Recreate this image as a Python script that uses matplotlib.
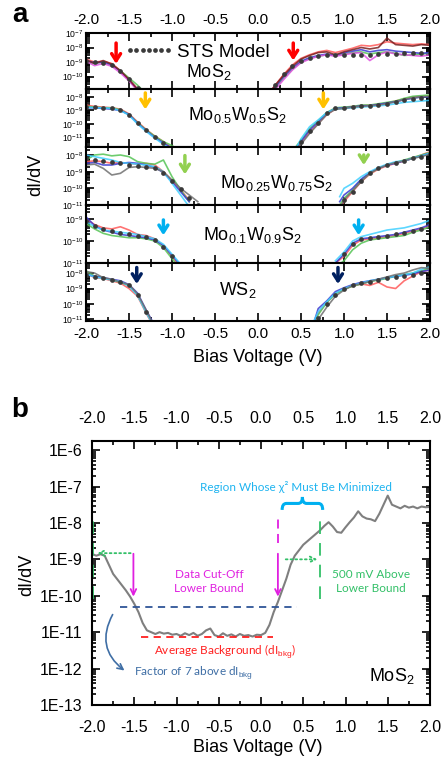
import matplotlib
matplotlib.use('Agg')
import matplotlib.pyplot as plt
import numpy as np
from matplotlib.ticker import MultipleLocator, LogLocator, NullFormatter, FuncFormatter
from matplotlib.path import Path
from matplotlib.patches import PathPatch
import matplotlib.transforms as mtransforms

plt.rcParams['font.family'] = ['Liberation Sans', 'DejaVu Sans']
plt.rcParams['mathtext.fontset'] = 'custom'
plt.rcParams['mathtext.rm'] = 'Liberation Sans'
plt.rcParams['mathtext.it'] = 'Liberation Sans:italic'
plt.rcParams['mathtext.bf'] = 'Liberation Sans:bold'

# all dI/dV values are stored as log10 exponents

# ---- panel a: MoS2 ----
mos2_lv = [-2.0, -1.9, -1.8, -1.7, -1.6, -1.5, -1.4, -1.3]
mos2_left = {
    'red':     [-8.8, -9.0, -8.95, -9.1, -9.6, -10.2, -10.85, -11.4],
    'green':   [-9.0, -9.1, -9.0, -9.25, -9.6, -10.1, -10.6, -11.2],
    'blue':    [-8.9, -9.05, -9.0, -9.2, -9.65, -10.25, -10.9, -11.5],
    'magenta': [-8.95, -9.25, -9.1, -9.3, -9.75, -10.3, -11.0, -11.5],
    'darkred': [-8.85, -9.1, -8.9, -9.15, -9.6, -10.2, -10.9, -11.5],
    'model':   [-8.95, -9.0, -9.05, -9.2, -9.65, -10.2, -10.8, np.nan],
}
mos2_rv = [0.15, 0.2, 0.3, 0.4, 0.5, 0.6, 0.7, 0.8, 0.9, 1.0, 1.1, 1.2, 1.3, 1.4, 1.5, 1.6, 1.7, 1.8, 1.9, 2.0]
mos2_right = {
    'red':     [-11.0, -10.6, -9.85, -9.2, -8.75, -8.5, -8.3, -8.2, -8.35, -8.2, -8.05, -7.85, -7.9, -7.8, -7.6, -7.7, -7.75, -7.8, -7.75, -7.8],
    'green':   [np.nan, -10.8, -10.1, -9.5, -9.0, -8.75, -8.6, -8.5, -8.55, -8.45, -8.35, -8.3, -8.45, -8.35, -8.3, -8.4, -8.55, -8.5, -8.45, -8.4],
    'blue':    [-11.0, -10.7, -10.0, -9.4, -8.95, -8.7, -8.55, -8.45, -8.55, -8.35, -8.25, -8.15, -8.3, -8.2, -8.15, -8.25, -8.3, -8.35, -8.4, -8.35],
    'magenta': [np.nan, -10.9, -10.2, -9.55, -9.05, -8.8, -8.6, -8.5, -8.6, -8.5, -8.4, -8.35, -8.9, -8.5, -8.3, -8.45, -8.5, -8.55, -8.6, -8.5],
    'darkred': [-11.0, -10.6, -9.9, -9.3, -8.8, -8.55, -8.35, -8.3, -8.5, -8.3, -8.15, -8.0, -8.1, -8.0, -7.35, -7.8, -7.85, -7.9, -7.8, -7.85],
    'model':   [np.nan, -10.6, -9.8, -9.25, -8.9, -8.7, -8.6, -8.55, -8.55, -8.5, -8.5, -8.5, -8.5, -8.45, -8.45, -8.45, -8.4, -8.4, -8.4, -8.4],
}

# ---- panel a: Mo0.5W0.5S2 ----
mw55_lv = [-2.0, -1.9, -1.8, -1.7, -1.6, -1.5, -1.4, -1.3, -1.2, -1.1, -1.0, -0.9]
mw55_left = {
    'red':   [-8.6, -8.7, -8.75, -8.8, -8.9, -9.25, -9.85, -10.4, -10.9, -11.3, -11.8, np.nan],
    'green': [-8.7, -8.75, -8.8, -8.8, -8.95, -9.3, -9.9, -10.45, -10.9, -11.3, -11.6, -12.0],
    'blue':  [-8.8, -8.8, -8.85, -8.9, -9.0, -9.3, -9.95, -10.5, -11.0, -11.4, -11.8, np.nan],
    'cyan':  [-8.75, -8.8, -8.8, -8.85, -9.0, -9.35, -10.0, -10.55, -11.05, -11.5, -11.9, np.nan],
    'model': [-8.75, -8.75, -8.8, -8.85, -8.95, -9.3, -9.9, -10.45, -10.95, -11.4, np.nan, np.nan],
}
mw55_rv = [0.45, 0.5, 0.6, 0.7, 0.8, 0.9, 1.0, 1.1, 1.2, 1.3, 1.4, 1.5, 1.6, 1.7, 1.8, 1.9, 2.0]
mw55_right = {
    'red':   [-11.8, -11.4, -10.6, -9.95, -9.3, -8.9, -8.8, -8.7, -8.65, -8.6, -8.55, -8.45, -8.3, -8.15, -8.0, -7.95, -7.9],
    'green': [-11.6, -11.2, -10.35, -9.75, -9.15, -8.8, -8.75, -8.7, -8.6, -8.6, -8.5, -8.4, -8.3, -8.1, -7.95, -7.9, -7.85],
    'blue':  [-11.7, -11.3, -10.45, -9.85, -9.2, -8.85, -8.8, -8.75, -8.65, -8.65, -8.55, -8.45, -8.35, -8.2, -8.1, -8.0, -8.0],
    'cyan':  [-11.7, -11.1, -10.2, -9.7, -9.15, -8.9, -8.85, -8.8, -8.75, -8.7, -8.65, -8.6, -8.5, -8.4, -8.35, -8.3, -8.25],
    'gray':  [-11.8, -11.5, -10.7, -10.0, -9.3, -8.9, -8.85, -8.75, -8.7, -8.65, -8.6, -8.5, -8.35, -8.2, -8.05, -8.0, -7.95],
    'model': [np.nan, -11.3, -10.5, -9.9, -9.2, -8.85, -8.8, -8.75, -8.7, -8.65, -8.6, -8.5, -8.4, -8.25, -8.15, -8.05, -8.0],
}

# ---- panel a: Mo0.25W0.75S2 ----
mw27_lv = [-2.0, -1.9, -1.8, -1.7, -1.6, -1.5, -1.4, -1.3, -1.2, -1.1, -1.0, -0.9, -0.8, -0.7]
mw27_left = {
    'red':   [-8.4, -8.35, -8.4, -8.5, -8.45, -8.5, -8.55, -8.5, -8.6, -9.0, -9.55, -10.1, -10.7, np.nan],
    'green': [-8.3, -8.0, -7.95, -8.05, -8.0, -8.1, -8.4, -8.5, -8.55, -8.3, -9.3, -10.1, -10.8, np.nan],
    'blue':  [-8.5, -8.45, -8.6, -8.6, -8.5, -8.45, -8.5, -8.6, -8.75, -9.05, -9.6, -10.2, -10.8, np.nan],
    'cyan':  [-8.0, -8.1, -8.2, -8.3, -8.45, -8.5, -8.55, -8.6, -8.7, -9.0, -9.7, -10.4, -11.1, np.nan],
    'gray':  [-8.6, -8.55, -8.8, -9.2, -9.1, -8.75, -8.7, -8.75, -8.8, -9.0, -9.5, -10.0, -10.4, -10.8],
    'model': [-8.2, -8.3, -8.35, -8.4, -8.5, -8.6, -8.65, -8.7, -8.8, -9.05, -9.55, -10.05, -10.55, -11.0],
}
mw27_rv = [0.95, 1.0, 1.1, 1.2, 1.3, 1.4, 1.5, 1.6, 1.7, 1.8, 1.9, 2.0]
mw27_right = {
    'red':   [-11.2, -10.8, -10.2, -9.6, -9.15, -8.85, -8.65, -8.5, -8.35, -8.2, -8.0, -7.8],
    'green': [-11.0, -10.6, -10.1, -9.5, -9.1, -8.8, -8.6, -8.45, -8.3, -8.15, -8.0, -7.85],
    'blue':  [-10.8, -10.4, -10.0, -9.45, -9.05, -8.8, -8.6, -8.5, -8.35, -8.2, -8.05, -7.9],
    'cyan':  [-10.5, -10.0, -9.7, -9.3, -9.0, -8.75, -8.55, -8.4, -8.35, -8.2, -8.05, -7.9],
    'gray':  [-11.2, -10.7, -10.15, -9.6, -9.1, -8.8, -8.6, -8.45, -8.35, -8.2, -8.1, -7.95],
    'model': [np.nan, -10.7, -10.2, -9.55, -9.1, -8.8, -8.6, -8.45, -8.35, -8.2, -8.1, -7.95],
}

# ---- panel a: Mo0.1W0.9S2 ----
mw19_lv = [-2.0, -1.9, -1.8, -1.7, -1.6, -1.5, -1.4, -1.3, -1.2, -1.1, -1.0, -0.9]
mw19_left = {
    'red':   [-9.0, -9.25, -9.4, -9.45, -9.35, -9.5, -9.7, -9.75, -9.9, -10.2, -10.7, -11.2],
    'green': [-9.2, -9.45, -9.65, -9.75, -9.8, -9.85, -9.85, -9.9, -10.0, -10.3, -10.8, -11.3],
    'blue':  [-8.9, -9.3, -9.5, -9.6, -9.7, -9.75, -9.8, -9.85, -9.95, -10.2, -10.65, -11.1],
    'cyan':  [-9.1, -9.35, -9.5, -9.55, -9.6, -9.65, -9.7, -9.8, -9.9, -10.15, -10.6, -11.05],
    'model': [-9.1, -9.3, -9.45, -9.55, -9.65, -9.7, -9.75, -9.8, -9.95, -10.25, -10.7, -11.2],
}
mw19_rv = [0.9, 1.0, 1.1, 1.2, 1.3, 1.4, 1.5, 1.6, 1.7, 1.8, 1.9, 2.0]
mw19_right = {
    'red':   [-11.0, -10.7, -10.2, -9.95, -9.9, -9.85, -9.8, -9.75, -9.65, -9.55, -9.45, -9.3],
    'green': [-11.2, -10.9, -10.4, -10.1, -9.95, -9.9, -9.85, -9.8, -9.75, -9.6, -9.5, -9.35],
    'blue':  [-11.0, -10.6, -10.1, -9.9, -9.85, -9.8, -9.75, -9.7, -9.6, -9.5, -9.4, -9.25],
    'cyan':  [-10.9, -10.5, -10.0, -9.8, -9.7, -9.6, -9.5, -9.45, -9.4, -9.3, -9.2, -9.05],
    'model': [np.nan, -10.6, -10.15, -9.9, -9.85, -9.8, -9.75, -9.7, -9.65, -9.55, -9.45, -9.3],
}

# ---- panel a: WS2 ----
ws2_lv = [-2.0, -1.9, -1.8, -1.7, -1.6, -1.5, -1.4, -1.3, -1.2]
ws2_left = {
    'red':   [-8.0, -8.3, -8.35, -8.5, -8.65, -9.0, -9.5, -10.6, -11.6],
    'green': [-7.85, -8.2, -8.3, -8.45, -8.6, -8.8, -9.4, -10.5, -11.5],
    'blue':  [-8.1, -8.2, -8.3, -8.4, -8.5, -8.75, -9.3, -10.4, -11.4],
    'cyan':  [-8.05, -8.25, -8.35, -8.45, -8.55, -8.85, -9.45, -10.55, -11.6],
    'gray':  [-7.9, -8.0, -8.3, -8.4, -8.6, -8.75, -9.35, -10.4, -11.5],
    'model': [-8.1, -8.25, -8.35, -8.45, -8.55, -8.8, -9.4, -10.5, -11.5],
}
ws2_rv = [0.65, 0.7, 0.8, 0.9, 1.0, 1.1, 1.2, 1.3, 1.4, 1.5, 1.6, 1.7, 1.8, 1.9, 2.0]
ws2_right = {
    'red':   [-11.2, -10.6, -9.9, -9.3, -9.0, -8.85, -8.7, -8.8, -8.6, -8.9, -9.0, -8.5, -8.2, -7.9, -7.8],
    'green': [-11.2, -10.7, -9.9, -9.35, -9.05, -8.85, -8.7, -8.55, -8.45, -8.35, -8.2, -8.1, -8.0, -7.85, -7.7],
    'blue':  [-11.2, -10.3, -9.8, -9.2, -8.95, -8.75, -8.6, -8.5, -8.4, -8.3, -8.2, -8.15, -8.05, -7.9, -7.8],
    'cyan':  [-11.1, -10.5, -9.85, -9.3, -9.0, -8.8, -8.65, -8.5, -8.4, -8.3, -8.2, -8.1, -8.0, -7.75, -7.6],
    'gray':  [-11.3, -11.0, -10.2, -9.5, -9.1, -8.8, -8.7, -8.55, -8.4, -8.25, -8.1, -8.0, -7.8, -7.65, -7.7],
    'model': [np.nan, -10.9, -10.0, -9.4, -9.0, -8.8, -8.65, -8.55, -8.45, -8.35, -8.25, -8.2, -8.1, -8.0, -7.95],
}

panel_names = [r'MoS$_2$', r'Mo$_{0.5}$W$_{0.5}$S$_2$', r'Mo$_{0.25}$W$_{0.75}$S$_2$',
               r'Mo$_{0.1}$W$_{0.9}$S$_2$', r'WS$_2$']
panel_ylims = [(-10.86, -7.0), (-11.7, -7.41), (-11.0, -7.52), (-11.0, -8.36), (-11.1, -7.35)]
# band edge positions marked by arrows (V)
edge_left = [-1.65, -1.31, -0.85, -1.10, -1.41]
edge_right = [0.41, 0.76, 1.23, 1.17, 0.93]
edge_colors = ['#ff0000', '#ffc000', '#92d050', '#00b0f0', '#002060']

# ---- panel b: MoS2 single spectrum ----
b_bias = [-2.0, -1.95, -1.9, -1.85, -1.8, -1.75, -1.7, -1.65, -1.6, -1.55, -1.5, -1.45, -1.4, -1.35,
          -1.3, -1.25, -1.2, -1.15, -1.1, -1.05, -1.0, -0.95, -0.9, -0.85, -0.8, -0.75, -0.7, -0.65,
          -0.6, -0.55, -0.5, -0.45, -0.4, -0.35, -0.3, -0.25, -0.2, -0.15, -0.1, -0.05, 0.0, 0.05,
          0.1, 0.15, 0.2, 0.25, 0.3, 0.35, 0.4, 0.45, 0.5, 0.55, 0.6, 0.65, 0.7, 0.75, 0.8, 0.85,
          0.9, 0.95, 1.0, 1.05, 1.1, 1.15, 1.2, 1.25, 1.3, 1.35, 1.4, 1.45, 1.5, 1.55, 1.6, 1.65,
          1.7, 1.75, 1.8, 1.85, 1.9, 1.95, 2.0]
b_didv = [-8.85, -8.9, -8.86, -8.9, -9.15, -9.4, -9.55, -9.7, -9.85, -10.02, -10.22, -10.45, -10.75, -10.95,
          -11.0, -11.05, -11.0, -11.04, -11.02, -11.07, -11.05, -11.1, -11.03, -11.08, -11.02, -11.1, -11.05, -10.95,
          -10.9, -11.08, -11.12, -11.03, -11.1, -11.06, -11.12, -11.05, -11.1, -11.08, -11.12, -11.07, -11.08, -11.02,
          -10.8, -10.45, -10.17, -9.85, -9.53, -9.15, -8.9, -8.75, -8.6, -8.5, -8.4, -8.3, -8.2, -8.08, -7.98, -8.1,
          -8.25, -8.27, -8.12, -7.98, -7.85, -7.68, -7.82, -7.88, -7.9, -7.95, -7.75, -7.5, -7.25, -7.5, -7.55, -7.6,
          -7.53, -7.58, -7.55, -7.6, -7.55, -7.57, -7.56]
b_background = -11.13
b_cutoff = -10.31
b_cut_left = -1.51
b_cut_right = 0.20

curve_colors = {'red': '#ff5a5a', 'green': '#55c455', 'blue': '#3a3ad0', 'magenta': '#e050e0',
                'cyan': '#40d0ff', 'gray': '#707070', 'darkred': '#7a1f1f'}

W, H = 442, 760
fig = plt.figure(figsize=(W / 100, H / 100), dpi=100)

def frac_box(x0, y0, x1, y1):
    return [x0 / W, 1 - y1 / H, (x1 - x0) / W, (y1 - y0) / H]

def log_fmt(v, pos):
    return r'$10^{%d}$' % int(round(np.log10(v)))

panel_tops = [33, 89, 147, 205, 263, 321]
branches = [(mos2_lv, mos2_left, mos2_rv, mos2_right),
            (mw55_lv, mw55_left, mw55_rv, mw55_right),
            (mw27_lv, mw27_left, mw27_rv, mw27_right),
            (mw19_lv, mw19_left, mw19_rv, mw19_right),
            (ws2_lv, ws2_left, ws2_rv, ws2_right)]
label_pos = [(0.358, 0.30), (0.44, 0.55), (0.555, 0.38), (0.485, 0.48), (0.44, 0.53)]
arrow_frac = [((0.87, 0.40), (0.87, 0.46)), ((0.98, 0.60), (0.98, 0.60)),
              ((0.90, 0.48), (0.91, 0.64)), ((0.79, 0.43), (0.79, 0.43)), ((0.97, 0.59), (0.97, 0.59))]

axes_a = []
for i in range(5):
    ax = fig.add_axes(frac_box(86, panel_tops[i], 430, panel_tops[i + 1]))
    axes_a.append(ax)
    lv, left, rv, right = branches[i]
    for vs, br in [(lv, left), (rv, right)]:
        for name, vals in br.items():
            if name == 'model':
                continue
            ax.plot(vs, 10 ** np.array(vals), color=curve_colors[name], lw=1.2, alpha=0.85)
        model_line, = ax.plot(vs, 10 ** np.array(br['model']), 'o', color='#3a3a3a', ms=3.4, mec='none')
    ax.set_yscale('log')
    ax.set_xlim(-2, 2)
    ax.set_ylim(10 ** panel_ylims[i][0], 10 ** panel_ylims[i][1])
    ax.xaxis.set_major_locator(MultipleLocator(0.5))
    ax.xaxis.set_minor_locator(MultipleLocator(0.25))
    ax.yaxis.set_major_locator(LogLocator(base=10, numticks=20))
    ax.yaxis.set_minor_locator(LogLocator(base=10, subs=np.arange(2, 10), numticks=20))
    ax.yaxis.set_major_formatter(FuncFormatter(log_fmt))
    ax.yaxis.set_minor_formatter(NullFormatter())
    ax.tick_params(which='both', direction='in', top=True, right=True, width=1.2)
    ax.tick_params(which='major', length=6)
    ax.tick_params(which='minor', length=3)
    ax.tick_params(axis='y', labelsize=6.2, pad=2)
    ax.tick_params(axis='x', labelsize=11, labelbottom=(i == 4), labeltop=(i == 0), pad=4)
    ax.xaxis.set_major_formatter(FuncFormatter(lambda v, p: '%.1f' % v))
    for s in ax.spines.values():
        s.set_linewidth(1.5)
    ax.text(label_pos[i][0], label_pos[i][1], panel_names[i], transform=ax.transAxes,
            ha='center', va='center', fontsize=13)
    trans = mtransforms.blended_transform_factory(ax.transData, ax.transAxes)
    for v, (ytop, ytip) in zip([edge_left[i], edge_right[i]], [(arrow_frac[i][0][0], arrow_frac[i][0][1]),
                                                               (arrow_frac[i][1][0], arrow_frac[i][1][1])]):
        ax.annotate('', xy=(v, ytip), xycoords=trans, xytext=(v, ytop), textcoords=trans,
                    arrowprops=dict(arrowstyle='->,head_length=0.5,head_width=0.32',
                                    color=edge_colors[i], lw=2.5))
    if i == 0:
        ax.legend([model_line], ['STS Model'], loc='center left', bbox_to_anchor=(0.085, 0.66),
                  frameon=False, numpoints=7, handlelength=2.6, handletextpad=0.2,
                  borderpad=0, fontsize=13.5, markerscale=1.0)

fig.text(258 / W, 1 - 358 / H, 'Bias Voltage (V)', ha='center', va='center', fontsize=13)
fig.text(36 / W, 1 - 175 / H, 'dI/dV', ha='center', va='center', fontsize=13, rotation=90)
fig.text(20 / W, 1 - 15 / H, 'a', ha='center', va='center', fontsize=20, fontweight='bold')

# ---- panel b ----
axb = fig.add_axes(frac_box(92, 441, 430, 705))
axb.plot(b_bias, 10 ** np.array(b_didv), color='#7f7f7f', lw=1.5)
axb.set_yscale('log')
axb.set_xlim(-2, 2)
axb.set_ylim(1e-13, 10 ** -5.75)
axb.xaxis.set_major_locator(MultipleLocator(0.5))
axb.xaxis.set_minor_locator(MultipleLocator(0.25))
axb.xaxis.set_major_formatter(FuncFormatter(lambda v, p: '%.1f' % v))
axb.yaxis.set_major_locator(LogLocator(base=10, numticks=20))
axb.yaxis.set_minor_locator(LogLocator(base=10, subs=np.arange(2, 10), numticks=20))
axb.yaxis.set_major_formatter(FuncFormatter(lambda v, p: '1E%d' % int(round(np.log10(v)))))
axb.yaxis.set_minor_formatter(NullFormatter())
axb.tick_params(which='both', direction='in', top=True, right=True, width=1.2)
axb.tick_params(which='major', length=6)
axb.tick_params(which='minor', length=3)
axb.tick_params(axis='x', labelsize=11.5, labeltop=True, pad=11)
axb.tick_params(axis='y', labelsize=11.5, pad=7)
for s in axb.spines.values():
    s.set_linewidth(1.5)

note_font = ['Lato', 'DejaVu Sans']
magenta = '#e020e0'
green = '#33c068'
axb.hlines(10 ** b_cutoff, -1.67, 0.43, colors='#2f5597', linestyles=(0, (4, 3)), lw=1.3)
axb.hlines(10 ** b_background, -1.42, 0.14, colors='#ff2020', linestyles=(0, (4, 3)), lw=1.3)
for v in [b_cut_left, b_cut_right]:
    axb.annotate('', xy=(v, 10 ** -10.1), xytext=(v, 10 ** -8.77),
                 arrowprops=dict(arrowstyle='->', color=magenta, lw=1.3))
axb.vlines(b_cut_right, 10 ** -8.55, 10 ** -7.87, colors=magenta, linestyles=(0, (5, 3)), lw=1.3)
for v in [b_cut_left - 0.48, b_cut_right + 0.5]:
    axb.vlines(v, 10 ** -10.1, 10 ** -7.87, colors=green, linestyles=(0, (7, 5)), lw=1.3)
axb.annotate('', xy=(b_cut_left - 0.46, 10 ** -8.83), xytext=(b_cut_left, 10 ** -8.83),
             arrowprops=dict(arrowstyle='->', color=green, lw=1.3, linestyle=':'))
axb.annotate('', xy=(b_cut_right + 0.5, 10 ** -9.0), xytext=(b_cut_right + 0.06, 10 ** -9.0),
             arrowprops=dict(arrowstyle='->', color=green, lw=1.3, linestyle=':'))
axb.annotate('', xy=(-1.59, 10 ** -12.1), xytext=(-1.74, 10 ** -10.45),
             arrowprops=dict(arrowstyle='->', color='#3f6ea5', lw=1.2, connectionstyle='arc3,rad=0.45'))

# curly brace over the fitted region
bt = mtransforms.blended_transform_factory(axb.transData, axb.transAxes)
x0, x1 = b_cut_right + 0.05, b_cut_right + 0.53
xm = (x0 + x1) / 2
y0, y1 = 0.739, 0.788
ym = (y0 + y1) / 2
q = 0.05
verts = [(x0, y0), (x0, ym), (x0 + q, ym), (xm - q, ym), (xm, ym), (xm, y1),
         (xm, ym), (xm + q, ym), (x1 - q, ym), (x1, ym), (x1, y0)]
codes = [Path.MOVETO, Path.CURVE3, Path.CURVE3, Path.LINETO, Path.CURVE3, Path.CURVE3,
         Path.CURVE3, Path.CURVE3, Path.LINETO, Path.CURVE3, Path.CURVE3]
axb.add_patch(PathPatch(Path(verts, codes), transform=bt, fill=False, edgecolor='#00b0f0', lw=2.2))

axb.text(0.41, 10 ** -7.0, 'Region Whose χ² Must Be Minimized', color='#1fb4f0', ha='center', va='center',
         fontsize=8.5, family=note_font)
axb.text(-0.615, 10 ** -9.6, 'Data Cut-Off\nLower Bound', color=magenta, ha='center', va='center',
         fontsize=8.5, family=note_font, linespacing=1.3)
axb.text(1.30, 10 ** -9.6, '500 mV Above\nLower Bound', color=green, ha='center', va='center',
         fontsize=8.5, family=note_font, linespacing=1.3)
axb.text(-0.43, 10 ** -11.55, r'Average Background (dI$_{\mathrm{bkg}}$)', color='#ff2020', ha='center',
         va='center', fontsize=8.5, family=note_font)
axb.text(-1.50, 10 ** -12.12, r'Factor of 7 above dI$_{\mathrm{bkg}}$', color='#3f6ea5', ha='left',
         va='center', fontsize=8.5, family=note_font)
axb.text(1.55, 10 ** -12.2, r'MoS$_2$', ha='center', va='center', fontsize=13)

fig.text(258 / W, 1 - 747 / H, 'Bias Voltage (V)', ha='center', va='center', fontsize=13)
fig.text(27 / W, 1 - 575 / H, 'dI/dV', ha='center', va='center', fontsize=13, rotation=90)
fig.text(20 / W, 1 - 410 / H, 'b', ha='center', va='center', fontsize=20, fontweight='bold')

fig.savefig('out.png', dpi=100)
